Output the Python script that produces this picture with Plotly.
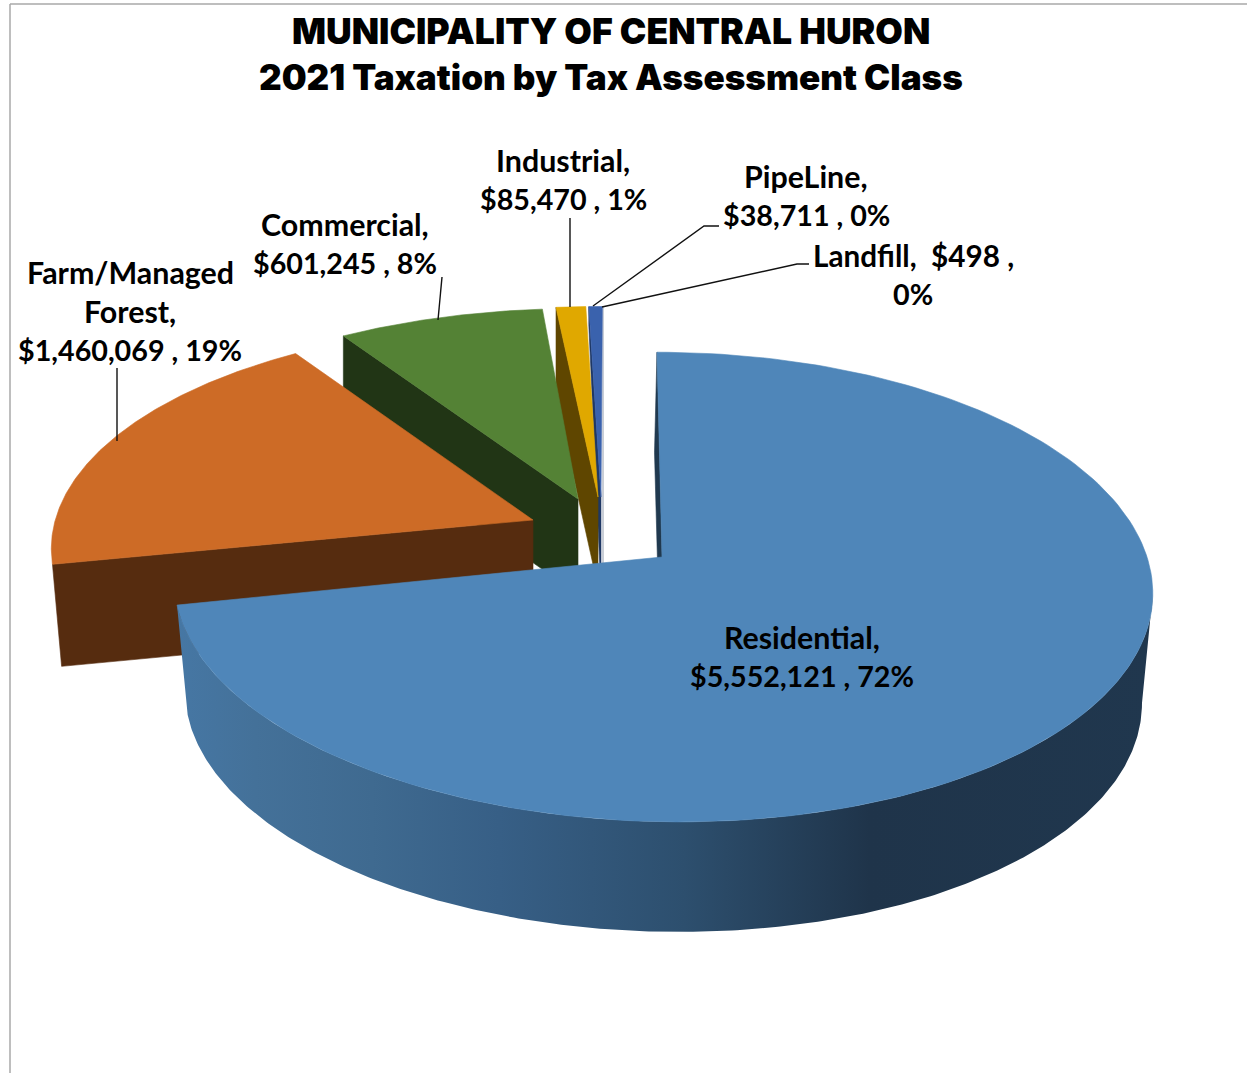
import numpy as np
import plotly.graph_objects as go

# ---- data ----
categories = ["Residential", "Farm/Managed Forest", "Commercial", "Industrial", "PipeLine", "Landfill"]
values = [5552121, 1460069, 601245, 85470, 38711, 498]
percent_text = ["72%", "19%", "8%", "1%", "0%", "0%"]
value_text = ["$5,552,121", "$1,460,069", "$601,245", "$85,470", "$38,711", "$498"]

title_lines = ["MUNICIPALITY OF CENTRAL HURON", "2021 Taxation by Tax Assessment Class"]

# ---- styling / projection ----
top_colors = ["#4f86b9", "#cd6b26", "#548235", "#e0a800", "#3a62ad", "#c9ced6"]
side_colors = [None, "#562c0f", "#213515", "#5f4600", "#1f3864", "#c9ced6"]
apex_x = [662, 533, 578, 598, 601, 603]
apex_y = [557, 520, 499, 497, 497, 497]
scale_x = [1.0, 0.985, 0.99, 1.0, 1.0, 1.0]
scale_y = [1.0, 0.955, 0.93, 0.93, 0.93, 0.93]
rotation = [0.0, 0.4, 1.0, 0.2, 0.2, 0.0]
skew_a = [-11.5, 0, 0, 0, 0, 0]
skew_b = [6.5, 0, 0, 0, 0, 0]
depth = [110, 102, 95, 90, 95, 66]
depth_x = [0.978, 0.981, 1.0, 1.0, 1.0, 1.0]
RX, RY, K = 485.0, 231.0, 0.128

W, H = 1247, 1073


def project(i, deg):
    a = np.radians(np.asarray(deg, dtype=float) + rotation[i])
    u, v = np.sin(a), np.cos(a)
    w = 1 + K * v
    return (apex_x[i] + scale_x[i] * RX * u / w + skew_a[i] * v + skew_b[i] * v * v,
            apex_y[i] - scale_y[i] * RY * v / w)


def lower(i, x, y, d=None):
    d = depth[i] if d is None else d
    return apex_x[i] + (np.asarray(x) - apex_x[i]) * depth_x[i], np.asarray(y) + d


total = sum(values)
edges = np.concatenate([[0.0], np.cumsum(values) / total * 360.0])


def arc(i, n=180):
    return np.linspace(edges[i], edges[i + 1], n)


def poly(fig, xs, ys, color, name, line=None):
    fig.add_trace(go.Scatter(
        x=list(xs), y=list(ys), mode="lines", fill="toself", fillcolor=color,
        line=dict(color=line or color, width=0.6), hoverinfo="skip",
        name=name, showlegend=False))


def top_face(fig, i):
    x, y = project(i, arc(i))
    poly(fig, [apex_x[i], *x, apex_x[i]], [apex_y[i], *y, apex_y[i]], top_colors[i], categories[i])


def radial_side(fig, i, edge_deg, far_depth=None, color=None):
    x0, y0 = project(i, edge_deg)
    bx, by = lower(i, x0, y0, far_depth)
    ax, ay = lower(i, apex_x[i], apex_y[i])
    poly(fig, [apex_x[i], x0, bx, ax, apex_x[i]],
         [apex_y[i], y0, by, ay, apex_y[i]], color or side_colors[i], categories[i] + " side")


fig = go.Figure()

# Landfill: a hairline slice seen edge-on
lx, ly = project(5, edges[6])
fig.add_trace(go.Scatter(x=[float(lx), apex_x[5]], y=[float(ly), apex_y[5] + depth[5]], mode="lines",
                         line=dict(color=top_colors[5], width=2), hoverinfo="skip", showlegend=False))
# PipeLine
radial_side(fig, 4, edges[4], far_depth=18)
top_face(fig, 4)
# Industrial
radial_side(fig, 3, edges[3])
top_face(fig, 3)
# Commercial
radial_side(fig, 2, edges[2])
top_face(fig, 2)
# Farm
radial_side(fig, 1, edges[1])
top_face(fig, 1)
# Residential wall with shaded gradient, from the right-hand silhouette to the end of the slice
rx_top, ry_top = project(0, arc(0, 500))
rx_bot, ry_bot = lower(0, rx_top, ry_top)
right = int(np.argmax(rx_top))
fig.add_trace(go.Scatter(
    x=[*rx_top[right:], *rx_bot[right:][::-1]], y=[*ry_top[right:], *ry_bot[right:][::-1]],
    mode="lines", fill="toself", line=dict(width=0, color="rgba(0,0,0,0)"),
    fillgradient=dict(type="horizontal", colorscale=[
        [0.0, "#4677a4"], [0.08, "#447199"], [0.2, "#3f6a90"], [0.33, "#375f86"],
        [0.52, "#2d4f6e"], [0.71, "#1f344a"], [1.0, "#20374e"]]),
    hoverinfo="skip", showlegend=False, name="Residential side"))
# Residential sliver behind its start edge
sx, sy = project(0, edges[0])
poly(fig, [sx, apex_x[0], apex_x[0] - 3, sx - 2.5, sx],
     [sy, apex_y[0], apex_y[0] + 60, sy + 100, sy], "#20394f", "Residential edge")
top_face(fig, 0)

# leader lines
leaders = [
    ([117, 117], [368, 441]),
    ([442, 438], [277, 320]),
    ([570, 570], [218, 307]),
    ([719, 704, 593], [226, 226, 306]),
    ([809, 797, 602], [264, 264, 307]),
]
for lxs, lys in leaders:
    fig.add_trace(go.Scatter(x=lxs, y=lys, mode="lines", line=dict(color="#111111", width=1.4),
                             hoverinfo="skip", showlegend=False))

WORD_SIZE, NUMBER_SIZE = 30.4, 28.7
label_pos = [
    (802, [(637, "Residential,", WORD_SIZE), (676, f"{value_text[0]} , {percent_text[0]}", NUMBER_SIZE)]),
    (130, [(272, "Farm/Managed", WORD_SIZE), (311, "Forest,", WORD_SIZE),
           (350, f"{value_text[1]} , {percent_text[1]}", NUMBER_SIZE)]),
    (345, [(224, "Commercial,", WORD_SIZE), (263, f"{value_text[2]} , {percent_text[2]}", NUMBER_SIZE)]),
    (563, [(160, "Industrial,", WORD_SIZE), (199, f"{value_text[3]} , {percent_text[3]}", NUMBER_SIZE)]),
    (806, [(176, "PipeLine,", WORD_SIZE), (215, f"{value_text[4]} , {percent_text[4]}", NUMBER_SIZE)]),
    (913, [(255, "Landfill,  " + value_text[5] + " ,", 29.7), (294, percent_text[5], NUMBER_SIZE)]),
]
annotations = []
for x, rows in label_pos:
    for y, line, size in rows:
        annotations.append(dict(x=x, y=y, xref="x", yref="y", text=line, showarrow=False,
                                font=dict(family="Lato", size=size, color="#000000", weight="bold"),
                                xanchor="center", yanchor="middle"))
for y, line, size in zip([31, 77], title_lines, [35.6, 35.1]):
    annotations.append(dict(x=611, y=y, xref="x", yref="y", text=line, showarrow=False,
                            font=dict(family="Inter", size=size, color="#000000", weight=900),
                            xanchor="center", yanchor="middle"))

fig.update_layout(
    width=W, height=H, margin=dict(l=0, r=0, t=0, b=0), autosize=False,
    paper_bgcolor="white", plot_bgcolor="white", showlegend=False,
    xaxis=dict(range=[0, W], visible=False, fixedrange=True),
    yaxis=dict(range=[H, 0], visible=False, fixedrange=True),
    annotations=annotations,
    shapes=[
        dict(type="line", x0=10, x1=10, y0=4, y1=H, xref="x", yref="y", line=dict(color="#a9a9a9", width=1.5)),
        dict(type="line", x0=10, x1=W, y0=4, y1=4, xref="x", yref="y", line=dict(color="#a9a9a9", width=1.5)),
    ],
)

fig.write_html("out.html", config=dict(displayModeBar=False),
               post_script="document.body.style.margin='0';document.body.style.overflow='hidden';")
